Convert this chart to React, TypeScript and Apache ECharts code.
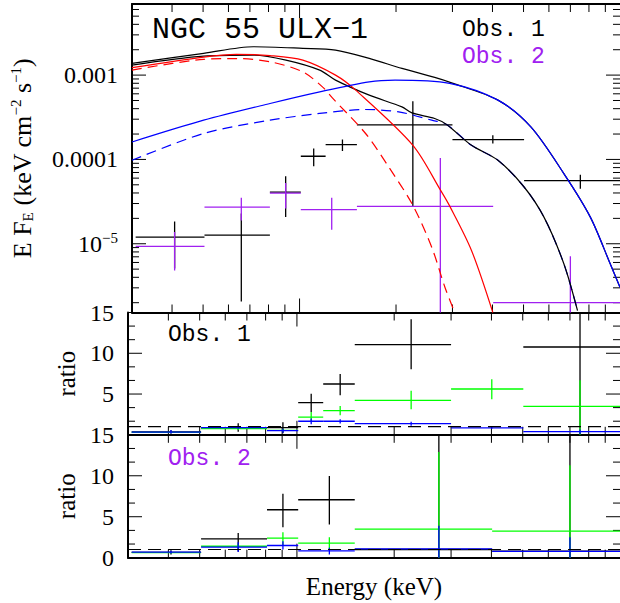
import React, { useEffect, useRef } from 'react';
import * as echarts from 'echarts';

// ---------- axis ranges ----------
const X_MIN = 0.3;
const X_MAX = 10;
const FLUX_MIN = 1.53e-6;
const FLUX_MAX = 6.97e-3;
const RATIO_MIN = 0;
const RATIO_MAX = 15;
const RATIO_UNITY = 1;

// ---------- tick positions & labels ----------
const xMajorTicks = [1];
const xMinorTicks = [0.4, 0.5, 0.6, 0.7, 0.8, 0.9, 2, 3, 4, 5, 6, 7, 8, 9];
const fluxMajorTicks = [1e-5, 1e-4, 1e-3];
const fluxTickLabels = ['10{sup|−5}', '0.0001', '0.001'];
const fluxMinorTicks = [
  2e-6, 3e-6, 4e-6, 5e-6, 6e-6, 7e-6, 8e-6, 9e-6,
  2e-5, 3e-5, 4e-5, 5e-5, 6e-5, 7e-5, 8e-5, 9e-5,
  2e-4, 3e-4, 4e-4, 5e-4, 6e-4, 7e-4, 8e-4, 9e-4,
  2e-3, 3e-3, 4e-3, 5e-3, 6e-3,
];
const ratioMajorTicks = [0, 5, 10, 15];
const ratioMinorTicks = [1.667, 3.333, 6.667, 8.333, 11.667, 13.333];

// ---------- Obs. 1 spectrum (black) ----------
const obs1BinLo = [0.308, 0.505, 0.808, 1.009, 1.206, 1.51, 3.0, 5.02];
const obs1BinHi = [0.505, 0.808, 1.009, 1.206, 1.51, 3.0, 5.02, 10.0];
const obs1BinMid = [0.4075, 0.658, 0.905, 1.107, 1.361, 2.257, 4.01, 7.52];
const obs1Flux = [1.198e-5, 1.265e-5, 4.1e-5, 1.09e-4, 1.502e-4, 2.567e-4, 1.72e-4, 5.61e-5];
const obs1FluxLo = [5.09e-6, 2.06e-6, 2.07e-5, 8.29e-5, 1.26e-4, 2.72e-5, 1.543e-4, 4.5e-5];
const obs1FluxHi = [1.84e-5, 2.29e-5, 6.31e-5, 1.346e-4, 1.72e-4, 4.91e-4, 1.936e-4, 6.6e-5];

// ---------- Obs. 2 spectrum (purple) ----------
const obs2BinLo = [0.308, 0.505, 0.808, 1.009, 1.51, 4.02];
const obs2BinHi = [0.505, 0.808, 1.009, 1.51, 4.02, 10.0];
const obs2BinMid = [0.4075, 0.658, 0.905, 1.26, 2.75, 7.0];
const obs2Flux = [9.29e-6, 2.72e-5, 3.99e-5, 2.54e-5, 2.775e-5, 2.0e-6];
const obs2FluxLo = [4.82e-6, 1.89e-5, 2.61e-5, 1.467e-5, 1e-7, 1e-7];
const obs2FluxHi = [1.374e-5, 3.52e-5, 5.25e-5, 3.52e-5, 1.04e-4, 7.12e-6];

// ---------- model curves ----------
const totalObs1E = [0.3, 0.502, 0.717, 1.024, 1.295, 1.65, 2.087, 2.641, 2.981, 4.16, 5.27, 6.68, 8.08, 9.32, 10.0];
const totalObs1F = [1.377e-3, 1.81e-3, 2.17e-3, 2.076e-3, 1.98e-3, 1.579e-3, 1.201e-3, 9.39e-4, 8.1e-4, 5.05e-4, 2.43e-4, 6.79e-5, 2.07e-5, 5.79e-6, 3.05e-6];
const totalObs2E = [0.3, 0.502, 0.717, 0.907, 1.156, 1.295, 1.65, 2.087, 2.242, 2.641, 2.876, 3.44, 4.16, 5.02, 5.79, 6.68, 7.37];
const totalObs2F = [1.315e-3, 1.681e-3, 1.728e-3, 1.507e-3, 1.147e-3, 8.72e-4, 5.78e-4, 4.2e-4, 3.56e-4, 3.06e-4, 2.59e-4, 1.47e-4, 9.77e-5, 4.71e-5, 2.07e-5, 5.79e-6, 1.61e-6];
const redSolidE = [0.3, 0.502, 0.635, 0.809, 1.024, 1.295, 1.497, 2.258, 2.756, 2.945, 3.44, 4.01];
const redSolidF = [1.228e-3, 1.636e-3, 1.762e-3, 1.704e-3, 1.507e-3, 1.0e-3, 6.63e-4, 1.47e-4, 4.3e-5, 2.775e-5, 8.33e-6, 1.53e-6];
const redDashE = [0.3, 0.502, 0.635, 0.809, 1.024, 1.181, 1.268, 1.607, 1.898, 2.258, 2.585, 2.842, 3.05];
const redDashF = [1.147e-3, 1.537e-3, 1.571e-3, 1.439e-3, 1.094e-3, 7.2e-4, 5.33e-4, 2.03e-4, 8.14e-5, 2.85e-5, 9.11e-6, 3.05e-6, 1.53e-6];
const blueSolidE = [0.3, 0.502, 0.809, 1.156, 1.65, 1.986, 2.94, 4.16, 5.27, 6.68, 8.08, 9.32, 10.0];
const blueSolidF = [1.61e-4, 2.92e-4, 4.61e-4, 6.33e-4, 8.32e-4, 8.72e-4, 7.97e-4, 5.05e-4, 2.43e-4, 6.79e-5, 2.07e-5, 5.79e-6, 3.05e-6];
const blueDashE = [0.3, 0.502, 0.809, 1.156, 1.604, 2.04, 2.585, 2.876, 3.44, 4.16, 5.02, 5.79, 6.68, 7.37];
const blueDashF = [9.77e-5, 2.03e-4, 2.92e-4, 3.51e-4, 3.91e-4, 3.66e-4, 2.92e-4, 2.59e-4, 1.47e-4, 9.77e-5, 4.71e-5, 2.07e-5, 5.79e-6, 1.61e-6];

// ---------- ratios, Obs. 1 ----------
const ratio1Black = [0.35, 0.85, 0.87, 3.94, 6.23, 11.06, null, 10.77];
const ratio1BlackLo = [0.15, 0.38, 0.18, 2.8, 4.85, 8.03, null, -1];
const ratio1BlackHi = [0.55, 1.41, 1.53, 5.04, 7.46, 14.17, null, 20];
const ratio1Green = [0.3, 0.75, 0.55, 2.18, 2.96, 4.23, 5.62, 3.49];
const ratio1GreenLo = [0.2, 0.6, 0.35, 1.57, 2.39, 3.13, 4.36, -1];
const ratio1GreenHi = [0.4, 0.9, 0.75, 2.8, 3.53, 5.41, 6.81, 6.69];
const ratio1Blue = [0.34, 0.87, 0.5, 1.66, 1.66, 1.36, 0.85, 0.38];
const ratio1BlueLo = [0.15, 0.7, 0.25, 1.3, 1.4, 1.1, 0.75, 0.1];
const ratio1BlueHi = [0.6, 1.05, 0.75, 2.0, 1.9, 1.6, 0.95, 0.65];

// ---------- ratios, Obs. 2 ----------
const ratio2Black = [0.65, 2.3, 5.85, 7.07, 1.0, 0.8];
const ratio2BlackLo = [0.4, 0.76, 3.73, 4.06, -1, -1];
const ratio2BlackHi = [0.9, 3.0, 7.8, 9.96, 20, 20];
const ratio2Green = [0.62, 1.4, 2.38, 1.77, 3.48, 3.24];
const ratio2GreenLo = [0.5, 1.1, 1.5, 1.0, -1, -1];
const ratio2GreenHi = [0.75, 1.7, 3.1, 2.5, 12.9, 11.27];
const ratio2Blue = [0.67, 1.28, 1.49, 0.83, 1.08, 0.76];
const ratio2BlueLo = [0.5, 0.7, 1.0, 0.4, -1, -1];
const ratio2BlueHi = [0.85, 1.9, 2.0, 1.2, 3.9, 2.5];

// ---------- styling ----------
const SERIF = 'Liberation Serif';
const MONO = 'Liberation Mono';
const BLACK = '#000000';
const RED = '#ff0000';
const BLUE = '#0000ff';
const GREEN = '#00ff00';
const PURPLE = '#a020f0';

function zip(xs: number[], ys: number[]) {
  return xs.map((x, i) => [x, ys[i]]);
}

function crossRows(lo: number[], hi: number[], mid: number[], v: (number | null)[], vlo: (number | null)[], vhi: (number | null)[]) {
  const rows: number[][] = [];
  v.forEach((val, i) => {
    if (val === null) return;
    rows.push([lo[i], hi[i], mid[i], val, vlo[i] as number, vhi[i] as number]);
  });
  return rows;
}

function crossSeries(rows: number[][], color: string, axisIndex: number) {
  return {
    type: 'custom',
    xAxisIndex: axisIndex,
    yAxisIndex: axisIndex,
    clip: true,
    encode: { x: [0, 1, 2], y: [3, 4, 5] },
    data: rows,
    renderItem: (params: any, api: any) => {
      const a = api.coord([api.value(0), api.value(3)]);
      const b = api.coord([api.value(1), api.value(3)]);
      const c = api.coord([api.value(2), api.value(4)]);
      const d = api.coord([api.value(2), api.value(5)]);
      const style = { stroke: color, lineWidth: 1.3 };
      return {
        type: 'group',
        children: [
          { type: 'line', shape: { x1: a[0], y1: a[1], x2: b[0], y2: b[1] }, style },
          { type: 'line', shape: { x1: c[0], y1: c[1], x2: d[0], y2: d[1] }, style },
        ],
      };
    },
  };
}

function tickSeries(axisIndex: number, yMajor: number[], yMinor: number[], yRef: number, yMajorLen: number, yMinorLen: number) {
  const rows: number[][] = [];
  xMajorTicks.forEach((t) => rows.push([t, yRef, 0, 1]));
  xMinorTicks.forEach((t) => rows.push([t, yRef, 0, 0]));
  yMajor.forEach((t) => rows.push([X_MIN, t, 1, 1]));
  yMinor.forEach((t) => rows.push([X_MIN, t, 1, 0]));
  return {
    type: 'custom',
    xAxisIndex: axisIndex,
    yAxisIndex: axisIndex,
    clip: false,
    encode: { x: 0, y: 1 },
    data: rows,
    silent: true,
    renderItem: (params: any, api: any) => {
      const cs = params.coordSys;
      const p = api.coord([api.value(0), api.value(1)]);
      const major = api.value(3) === 1;
      const style = { stroke: BLACK, lineWidth: 1 };
      if (api.value(2) === 0) {
        const len = major ? 14 : 8;
        return {
          type: 'group',
          children: [
            { type: 'line', shape: { x1: p[0], y1: cs.y + cs.height, x2: p[0], y2: cs.y + cs.height - len }, style },
            { type: 'line', shape: { x1: p[0], y1: cs.y, x2: p[0], y2: cs.y + len }, style },
          ],
        };
      }
      const len = major ? yMajorLen : yMinorLen;
      return {
        type: 'group',
        children: [
          { type: 'line', shape: { x1: cs.x, y1: p[1], x2: cs.x + len, y2: p[1] }, style },
          { type: 'line', shape: { x1: cs.x + cs.width, y1: p[1], x2: cs.x + cs.width - len, y2: p[1] }, style },
        ],
      };
    },
  };
}

function modelLine(xs: number[], ys: number[], color: string, dashed: boolean) {
  return {
    type: 'line',
    xAxisIndex: 0,
    yAxisIndex: 0,
    data: zip(xs, ys),
    showSymbol: false,
    symbol: 'none',
    smooth: 0.3,
    silent: true,
    lineStyle: { color, width: 1.2, type: dashed ? [10, 6] : 'solid' },
  };
}

function unityLine(axisIndex: number) {
  return {
    type: 'line',
    xAxisIndex: axisIndex,
    yAxisIndex: axisIndex,
    data: [[X_MIN, RATIO_UNITY], [X_MAX, RATIO_UNITY]],
    showSymbol: false,
    symbol: 'none',
    silent: true,
    z: 5,
    lineStyle: { color: BLACK, width: 1.2, type: [13, 7] },
  };
}

const GRID_LEFT = 128;
const GRID_WIDTH = 492.2;

const axisLineStyle = { show: true, lineStyle: { color: BLACK, width: 2 } };
const labelBase = { fontFamily: SERIF, fontSize: 24, color: BLACK, margin: 14 };

function xAxisDef(gridIndex: number, position: string, name?: string) {
  return {
    type: 'log',
    logBase: 10,
    gridIndex,
    position,
    min: X_MIN,
    max: X_MAX,
    axisLine: axisLineStyle,
    axisTick: { show: false },
    axisLabel: { show: false },
    splitLine: { show: false },
    name: name || '',
    nameLocation: 'middle',
    nameGap: 16,
    nameTextStyle: { fontFamily: SERIF, fontSize: 25, color: BLACK },
  };
}

function ratioYAxis(gridIndex: number, hideZero: boolean) {
  return {
    type: 'value',
    gridIndex,
    min: RATIO_MIN,
    max: RATIO_MAX,
    interval: 5,
    axisLine: axisLineStyle,
    axisTick: { show: false },
    splitLine: { show: false },
    axisLabel: {
      ...labelBase,
      showMinLabel: !hideZero,
      formatter: (v: number) => {
        const i = ratioMajorTicks.indexOf(v);
        if (i < 0) return '';
        if (hideZero && v === 0) return '';
        return String(v);
      },
    },
    name: 'ratio',
    nameLocation: 'middle',
    nameGap: 44,
    nameRotate: 90,
    nameTextStyle: { fontFamily: SERIF, fontSize: 25, color: BLACK },
  };
}

const obsText = (text: string, x: number, y: number, fill: string) => ({
  type: 'text',
  x,
  y,
  style: { text, fontFamily: MONO, fontSize: 23, lineHeight: 20, fill, verticalAlign: 'middle' },
});

export default function App() {
  const ref = useRef<HTMLDivElement>(null);
  useEffect(() => {
    if (!ref.current) return;
    const chart = echarts.init(ref.current, undefined, { renderer: 'svg' });
    const option: any = {
      animation: false,
      backgroundColor: '#ffffff',
      grid: [
        { left: GRID_LEFT, top: 4, width: GRID_WIDTH, height: 308.5 },
        { left: GRID_LEFT, top: 312.5, width: GRID_WIDTH, height: 122.3 },
        { left: GRID_LEFT, top: 434.8, width: GRID_WIDTH, height: 122.9 },
      ],
      xAxis: [
        xAxisDef(0, 'bottom'),
        xAxisDef(1, 'bottom'),
        xAxisDef(2, 'bottom', 'Energy (keV)'),
        xAxisDef(0, 'top'),
      ],
      yAxis: [
        {
          type: 'log',
          logBase: 10,
          gridIndex: 0,
          min: FLUX_MIN,
          max: FLUX_MAX,
          axisLine: axisLineStyle,
          axisTick: { show: false },
          splitLine: { show: false },
          axisLabel: {
            ...labelBase,
            showMinLabel: false,
            showMaxLabel: false,
            formatter: (v: number) => {
              for (let i = 0; i < fluxMajorTicks.length; i++) {
                if (Math.abs(Math.log10(v) - Math.log10(fluxMajorTicks[i])) < 1e-6) return fluxTickLabels[i];
              }
              return '';
            },
            rich: {
              sup: { fontFamily: SERIF, fontSize: 15, color: BLACK, padding: [0, 0, 12, 0] },
            },
          },
          name: 'E F{sub|E} (keV cm{sup|−2} s{sup|−1})',
          nameLocation: 'middle',
          nameGap: 96,
          nameRotate: 90,
          nameTextStyle: {
            fontFamily: SERIF,
            fontSize: 26,
            color: BLACK,
            rich: {
              sub: { fontFamily: SERIF, fontSize: 15, color: BLACK, padding: [12, 0, 0, 0] },
              sup: { fontFamily: SERIF, fontSize: 15, color: BLACK, padding: [0, 0, 13, 0] },
            },
          },
        },
        ratioYAxis(1, true),
        ratioYAxis(2, false),
      ],
      series: [
        tickSeries(0, fluxMajorTicks, fluxMinorTicks, FLUX_MIN, 14, 7),
        tickSeries(1, ratioMajorTicks, ratioMinorTicks, RATIO_MIN, 14, 7),
        tickSeries(2, ratioMajorTicks, ratioMinorTicks, RATIO_MIN, 14, 7),
        modelLine(blueDashE, blueDashF, BLUE, true),
        modelLine(totalObs2E, totalObs2F, BLACK, false),
        modelLine(totalObs1E, totalObs1F, BLACK, false),
        modelLine(redDashE, redDashF, RED, true),
        modelLine(redSolidE, redSolidF, RED, false),
        modelLine(blueSolidE, blueSolidF, BLUE, false),
        crossSeries(crossRows(obs1BinLo, obs1BinHi, obs1BinMid, obs1Flux, obs1FluxLo, obs1FluxHi), BLACK, 0),
        crossSeries(crossRows(obs2BinLo, obs2BinHi, obs2BinMid, obs2Flux, obs2FluxLo, obs2FluxHi), PURPLE, 0),
        crossSeries(crossRows(obs1BinLo, obs1BinHi, obs1BinMid, ratio1Black, ratio1BlackLo, ratio1BlackHi), BLACK, 1),
        crossSeries(crossRows(obs1BinLo, obs1BinHi, obs1BinMid, ratio1Green, ratio1GreenLo, ratio1GreenHi), GREEN, 1),
        crossSeries(crossRows(obs1BinLo, obs1BinHi, obs1BinMid, ratio1Blue, ratio1BlueLo, ratio1BlueHi), BLUE, 1),
        unityLine(1),
        crossSeries(crossRows(obs2BinLo, obs2BinHi, obs2BinMid, ratio2Black, ratio2BlackLo, ratio2BlackHi), BLACK, 2),
        crossSeries(crossRows(obs2BinLo, obs2BinHi, obs2BinMid, ratio2Green, ratio2GreenLo, ratio2GreenHi), GREEN, 2),
        crossSeries(crossRows(obs2BinLo, obs2BinHi, obs2BinMid, ratio2Blue, ratio2BlueLo, ratio2BlueHi), BLUE, 2),
        unityLine(2),
      ],
      graphic: [
        { type: 'text', x: 152, y: 29.5, style: { text: 'NGC 55 ULX−1', fontFamily: MONO, fontSize: 30, fill: BLACK, verticalAlign: 'middle' } },
        obsText('Obs. 1', 462, 29.5, BLACK),
        obsText('Obs. 2', 462, 56.5, PURPLE),
        obsText('Obs. 1', 168, 335, BLACK),
        obsText('Obs. 2', 168, 458.5, PURPLE),
      ],
    };
    chart.setOption(option);
    return () => chart.dispose();
  }, []);
  return <div ref={ref} style={{ position: 'absolute', left: 0, top: 0, width: 620, height: 603 }} />;
}
